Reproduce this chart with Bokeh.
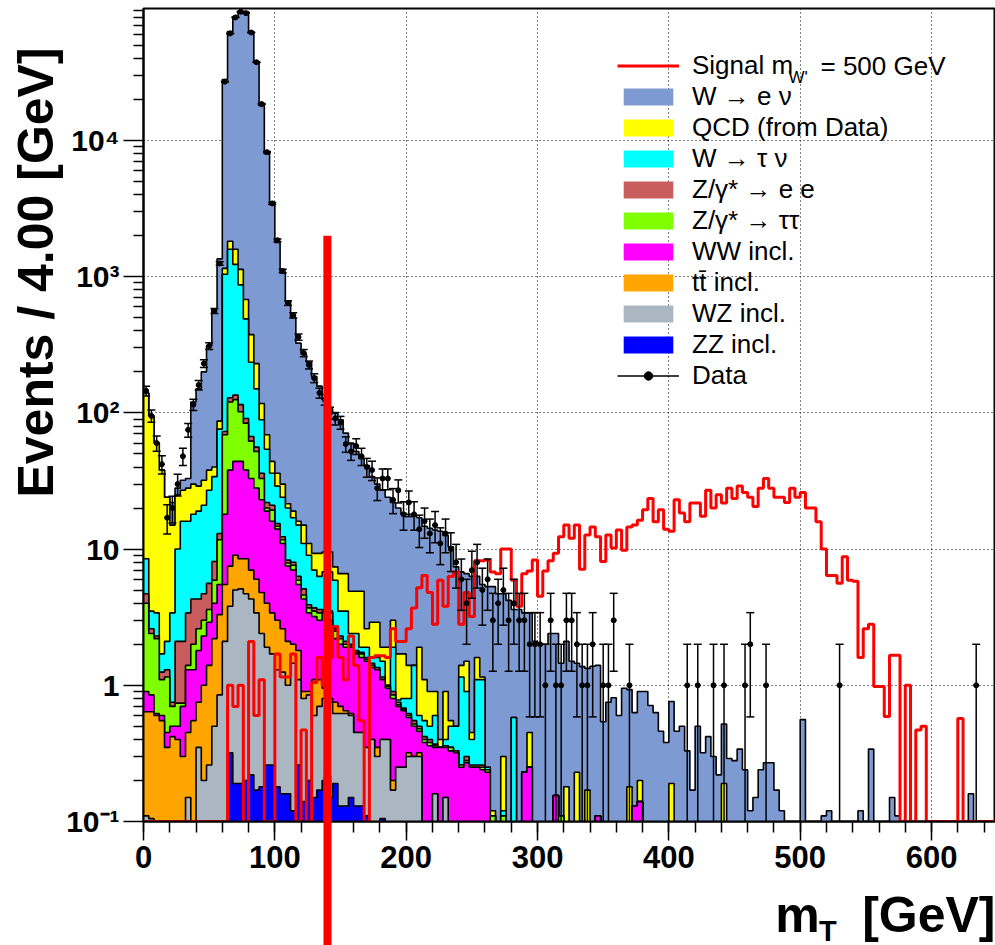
import numpy as np
from bokeh.plotting import figure
from bokeh.models import (Range1d, Legend, LegendItem, BoxAnnotation, Label, Title, LinearAxis,
                          CustomJSTickFormatter, FixedTicker)
from bokeh.embed import file_html
from bokeh.resources import INLINE

# ---------------- data ----------------
BIN_WIDTH = 4.0          # GeV
N_BINS = 163             # 0 .. 652 GeV

# stacked heights (top of each layer in the THStack), events / 4 GeV
stack_wenu = [
    140, 95, 60, 38, 24, 22, 28, 32, 33, 120,
    150, 200, 310, 580, 1350, 28000, 63000, 81000, 89000, 88000,
    63000, 38000, 18000, 8000, 3500, 1780, 1070, 660, 500, 325,
    270, 235, 185, 157, 125, 107, 100, 89, 71, 60,
    52, 46, 41, 34, 30, 27, 24, 22, 20, 18,
    18, 17.7, 17, 14.7, 14.2, 13.8, 13.5, 12.6, 10.4, 7.4,
    6.8, 6.6, 6.3, 6.3, 5.5, 5.3, 5.3, 4.7, 4.7, 4.2,
    3.6, 3.6, 3.4, 3.4, 2.1, 2.0, 2.0, 2.4, 2.4, 1.45,
    2.1, 1.5, 1.45, 1.37, 1.33, 1.38, 1.4, 0.54, 0.75, 0.81,
    0.6, 0.95, 0.93, 0.63, 0.9, 0.9, 0.71, 0.63, 0.46, 0.38,
    0.76, 0.46, 0.5, 0.33, 0.17, 0.5, 0.32, 0.42, 0.3, 0.22,
    0.52, 0.29, 0.28, 0.34, 0.24, 0.12, 0.15, 0.24, 0.27, 0.27,
    0.17, 0.12, 0, 0, 0, 0.56, 0, 0, 0, 0.11,
    0.12, 0, 0, 0, 0, 0, 0.12, 0, 0.34, 0,
    0, 0, 0.15, 0.11, 0, 0, 0, 0, 0, 0,
    0, 0, 0, 0, 0, 0, 0, 0.16, 0, 0,
    0, 0, 0]
stack_qcd = [
    140, 95, 60, 38, 24, 15, 25, 27, 28, 30,
    29, 32, 38, 40, 87, 1150, 1820, 1590, 1130, 680,
    375, 230, 117, 69, 44, 36, 30, 21.5, 19, 16,
    15, 11, 9.3, 9.3, 9.5, 9.5, 7.4, 6.6, 6.6, 4.9,
    4.9, 4.9, 2.6, 2.9, 2.9, 1.9, 1.9, 3.0, 1.7, 1.7,
    1.4, 1.4, 1.9, 1.1, 0.9, 0.9, 0.4, 0.9, 0.55, 0.5,
    1.4, 1.5, 0.45, 1.6, 1.15, 0.25, 0.12, 0, 0.3, 0,
    0.58, 0, 0.23, 0.45, 0, 0, 0, 0, 0.155, 0.11,
    0.18, 0, 0.23, 0, 0.17, 0, 0.11, 0, 0, 0,
    0, 0, 0.18, 0.13, 0.2, 0, 0, 0, 0, 0,
    0.19, 0, 0, 0, 0, 0, 0, 0, 0, 0, 0.19]
stack_wtaunu = [
    8.5, 3.5, 3.4, 1.7, 2.1, 3.4, 10, 16, 16, 18,
    19, 21, 27, 34, 76, 1040, 1590, 1230, 870, 490,
    235, 150, 89, 54, 36, 29, 24, 20, 17, 15,
    11, 9, 7, 6.3, 6.8, 6.8, 5.9, 3.5, 3.5, 2.4,
    2.4, 1.9, 1.9, 1.6, 1.6, 1.5, 1.0, 1.9, 0.78, 0.8,
    0.8, 1.4, 0.6, 0.55, 0.5, 0.6, 0.35, 0.4, 0.5, 0.5,
    1.15, 0.9, 0.4, 1.1, 1.1, 0.25, 0.11, 0, 0.12, 0, 0.58]
stack_zee = [
    4.7, 2.6, 2.3, 1.25, 1.3, 0.75, 2.1, 2.1, 3.4, 4.3,
    4.3, 4.7, 5.6, 8.1, 13, 73, 129, 135, 115, 91,
    67, 56, 36, 22, 21, 15.4, 12.3, 8.3, 8.0, 6.3,
    5.1, 3.9, 3.7, 3.6, 3.6, 3.5, 2.6, 2.3, 2.1, 2.0,
    1.8, 1.75, 1.6, 1.45, 1.35, 1.15, 1.0, 0.9, 0.75, 0.68,
    0.62, 0.55, 0.5, 0.42, 0.4, 0.37, 0.35, 0.36, 0.35, 0.33,
    0.26, 0.3, 0.26, 0.26, 0.26, 0.24, 0.11, 0, 0.11]
stack_ztautau = [
    4.0, 2.4, 2.2, 1.1, 1.15, 0.7, 0.74, 0.74, 1.4, 2.0,
    2.6, 3.0, 3.6, 5.9, 11.7, 69, 120, 125, 102, 84,
    62, 52, 33, 20, 19.3, 14.7, 11.7, 7.9, 7.6, 5.9,
    4.6, 3.7, 3.5, 3.4, 3.5, 3.4, 2.5, 2.2, 2.0, 1.95,
    1.75, 1.7, 1.55, 1.4, 1.3, 1.1, 0.98, 0.85, 0.72, 0.66,
    0.6, 0.52, 0.48, 0.4, 0.38, 0.36, 0.35, 0.36, 0.35, 0.33,
    0.26, 0.28, 0.25, 0.25, 0.25, 0.24, 0.11, 0, 0.11, 0,
    0, 0, 0.23, 0.25, 0, 0, 0, 0, 0.155, 0.11]
stack_ww = [
    0.9, 0.85, 0.62, 0.6, 0.45, 0.5, 0.5, 0.7, 1.3, 1.3,
    1.8, 2.3, 2.9, 4.0, 5.5, 18, 38, 44, 44, 38,
    33, 28, 23, 19, 16, 14, 11, 7.5, 7.0, 5.5,
    4.3, 3.4, 3.2, 3.0, 3.4, 3.0, 2.2, 2.0, 1.9, 1.9,
    1.7, 1.6, 1.5, 1.35, 1.3, 1.1, 0.95, 0.8, 0.7, 0.65,
    0.58, 0.5, 0.46, 0.38, 0.36, 0.35, 0.35, 0.35, 0.33, 0.32,
    0.25, 0.27, 0.25, 0.25, 0.24, 0.23, 0, 0, 0, 0,
    0, 0, 0.23, 0.25, 0, 0, 0, 0, 0.155, 0,
    0, 0, 0, 0, 0, 0, 0.11, 0, 0, 0,
    0, 0, 0, 0.13, 0.14]
stack_ttbar = [
    0.64, 0.64, 0.6, 0.55, 0.35, 0.42, 0.4, 0.3, 0.45, 0.55,
    0.75, 1.0, 1.4, 2.2, 3.3, 5.5, 7.5, 9.0, 8.5, 8.5,
    7.0, 6.0, 4.8, 4.0, 3.4, 3.0, 2.6, 2.1, 2.0, 1.8,
    0.9, 0.9, 1.1, 1.1, 0.95, 0.8, 0.75, 0.7, 0.65, 0.62,
    0.45, 0.45, 0.35, 0.4, 0.35, 0.4, 0.4, 0.2, 0.25, 0.25,
    0.32, 0.3, 0.32, 0, 0, 0.16, 0, 0.15]
stack_wz = [
    0.11, 0.105, 0, 0, 0, 0, 0, 0, 0.15, 0,
    0.35, 0.2, 0.26, 0.5, 0.85, 2.1, 3.8, 5.0, 5.1, 4.7,
    4.3, 3.4, 2.4, 1.9, 1.7, 1.3, 1.25, 1.0, 1.45, 1.1,
    0.8, 0.85, 0.6, 0.7, 0.8, 0.75, 0.62, 0.62, 0.62, 0.6,
    0.45, 0.45, 0.35, 0.4, 0.3, 0.4, 0.4, 0.17, 0.25, 0.25,
    0.3, 0.3, 0.3, 0, 0, 0.16, 0, 0.15]
stack_zz = [
    0, 0, 0, 0, 0, 0, 0, 0, 0, 0,
    0, 0, 0, 0, 0, 0, 0.32, 0.19, 0.19, 0.2,
    0.22, 0.17, 0.18, 0.26, 0.26, 0.18, 0.16, 0.16, 0.12, 0.26,
    0.14, 0.2, 0.15, 0.17, 0.2, 0.15, 0.19, 0.13, 0.13, 0.15,
    0.13, 0.13, 0.11, 0, 0, 0.105]

signal_wprime = [
    0, 0, 0, 0, 0, 0, 0, 0, 0, 0,
    0, 0, 0, 0, 0, 0, 1.0, 0.7, 1.0, 0,
    2.1, 0.6, 1.1, 0, 0, 1.7, 1.15, 1.15, 1.7, 0,
    0.47, 0, 1.05, 1.6, 1.0, 1.6, 2.7, 1.6, 1.1, 2.3,
    1.4, 0.55, 0, 1.6, 1.65, 1.65, 1.6, 2.6, 2.1, 2.1,
    2.6, 3.7, 5.2, 6.4, 4.8, 2.8, 5.9, 3.8, 6.3, 6.8,
    2.8, 4.8, 3.2, 8.2, 8.2, 8.3, 6.8, 6.6, 10, 10,
    5.9, 3.8, 6.6, 6.9, 8.3, 4.5, 6.9, 8.2, 9.3, 12.3,
    15, 12, 15, 7.1, 12.7, 14.5, 12.3, 8.1, 12.7, 10.2,
    13.8, 9.8, 14.5, 15, 16.3, 19.4, 23.5, 15.9, 19.4, 14,
    13.5, 23, 18.4, 15.9, 21.8, 21.8, 17.4, 27, 20, 25,
    21.8, 28, 23.5, 29, 26, 24, 20.5, 28, 33, 28,
    24, 24, 22, 28, 24, 26, 20, 20, 15.9, 10,
    6.4, 6.4, 5.6, 8.8, 5.9, 5.8, 1.6, 2.6, 2.8, 0.98,
    0.98, 0.59, 1.66, 1.66, 0, 1.0, 0, 0.47, 0.5, 0,
    0, 0, 0, 0, 0, 0.57, 0, 0, 0, 0,
    0, 0, 0]

data_counts = [
    145, 95, 60, 42, 17, 20, 30, 48, 75, 115,
    160, 230, 310, 560, 1250, 27000, 61000, 80000, 88000, 86000,
    62000, 37500, 18500, 8200, 3450, 1850, 1100, 640, 520, 360,
    275, 225, 180, 140, 125, 100, 91, 85, 59, 52,
    57, 48, 40, 38, 28, 33, 33, 23, 27, 18,
    22, 18, 14, 16, 13, 15, 11, 13, 10, 8,
    6, 4, 7, 8, 5, 6, 3, 4, 5, 3,
    4, 3, 3, 2, 2, 2, 1, 3, 1, 1,
    3, 3, 2, 1, 1, 2, 0, 1, 1, 3,
    0, 0, 1, 0, 0, 0, 0, 0, 0, 0,
    0, 0, 0, 1, 0, 1, 0, 0, 1, 0,
    1, 0, 0, 0, 1, 2, 0, 0, 1, 0,
    0, 0, 0, 0, 0, 0, 0, 0, 0, 0,
    0, 0, 1, 0, 0, 0, 0, 0, 0, 0,
    0, 0, 0, 0, 0, 0, 0, 0, 0, 0,
    0, 0, 0, 0, 0, 0, 0, 0, 1, 0,
    0, 0, 0]

CUT_MT = 140.0          # GeV, vertical red cut line
CUT_TOP = 2000.0        # events

legend_labels = ["W \u2192 e \u03bd", "QCD (from Data)", "W \u2192 \u03c4 \u03bd",
                 "Z/\u03b3* \u2192 e e", "Z/\u03b3* \u2192 \u03c4\u03c4", "WW incl.",
                 "tt\u0304 incl.", "WZ incl.", "ZZ incl."]
layer_colors = ["#7D9AD2", "#FFFF00", "#00FFFF", "#C95C5C", "#80FF00",
                "#FF00FF", "#FFA500", "#AAB7C3", "#0000FF"]

# ---------------- geometry ----------------
X_MIN, X_MAX = 0.0, 648.7
Y_MIN, Y_MAX = 0.1, 93000.0
FRAME_L, FRAME_T, FRAME_W, FRAME_H = 143, 8, 852, 813
FLOOR = 1e-3

def px_x(px):
    return X_MIN + (px - FRAME_L) * (X_MAX - X_MIN) / FRAME_W

def px_y(py):
    lo, hi = np.log10(Y_MIN), np.log10(Y_MAX)
    return 10 ** (lo + (FRAME_T + FRAME_H - py) * (hi - lo) / FRAME_H)

def padded(a):
    return np.array(list(a) + [0.0] * (N_BINS - len(a)), dtype=float)

edges = np.arange(N_BINS + 1) * BIN_WIDTH
centers = edges[:-1] + BIN_WIDTH / 2

# cumulative layers, outermost first; make each outer layer at least the inner one
raw = [stack_wenu, stack_qcd, stack_wtaunu, stack_zee, stack_ztautau,
       stack_ww, stack_ttbar, stack_wz, stack_zz]
layers = [padded(a) for a in raw]
for k in range(len(layers) - 2, -1, -1):
    layers[k] = np.maximum(layers[k], layers[k + 1])

def step_vals(v, floor):
    y = np.where(v > 0, v, floor)
    return np.append(y, y[-1])

FONT = "Liberation Sans"

p = figure(x_range=Range1d(X_MIN, X_MAX), y_range=Range1d(Y_MIN, Y_MAX),
           y_axis_type="log", frame_width=FRAME_W, frame_height=FRAME_H,
           min_border_left=FRAME_L, min_border_right=0, min_border_top=FRAME_T,
           min_border_bottom=945 - FRAME_T - FRAME_H,
           output_backend="svg", toolbar_location=None)
p.background_fill_color = "white"
p.border_fill_color = "white"
p.outline_line_color = "black"
p.outline_line_width = 2

# grids
for g in (p.xgrid, p.ygrid):
    g.grid_line_color = "black"
    g.grid_line_dash = "1 3"
    g.grid_line_width = 1

# axes
p.xaxis.ticker = FixedTicker(ticks=list(range(0, 601, 100)),
                             minor_ticks=list(range(0, 661, 20)))
p.yaxis.ticker = FixedTicker(ticks=[0.1, 1, 10, 100, 1000, 10000],
                             minor_ticks=[k * 10.0 ** e for e in range(-1, 5) for k in range(2, 10)])
p.yaxis.formatter = CustomJSTickFormatter(code="""
const e = Math.round(Math.log10(tick));
if (e === 0) { return "1"; }
if (e === 1) { return "10"; }
const sup = {"-": "\\u207b", "0": "\\u2070", "1": "\\u00b9", "2": "\\u00b2",
             "3": "\\u00b3", "4": "\\u2074", "5": "\\u2075"};
return "10" + String(e).split("").map(function (c) { return sup[c]; }).join("");
""")
for ax, tout, mout in ((p.xaxis, 19, 11), (p.yaxis, 20, 10)):
    ax.axis_line_color = "black"
    ax.axis_line_width = 2
    ax.major_tick_line_color = "black"
    ax.minor_tick_line_color = "black"
    ax.major_tick_line_width = 1.5
    ax.minor_tick_line_width = 1.5
    ax.major_tick_out = tout
    ax.major_tick_in = 0
    ax.minor_tick_out = mout
    ax.minor_tick_in = 0
    ax.major_label_text_font = FONT
    ax.major_label_text_font_style = "bold"
    ax.major_label_text_color = "black"
p.xaxis.major_label_text_font_size = "31px"
p.yaxis.major_label_text_font_size = "30px"
p.xaxis.major_label_standoff = 5
p.yaxis.major_label_standoff = 4

# stacked histograms
fill_renderers = []
for v, col in zip(layers, layer_colors):
    yv = step_vals(v, FLOOR)
    fr = p.varea_step(x=edges, y1=np.full_like(yv, FLOOR), y2=yv, step_mode="after",
                      fill_color=col, fill_alpha=1.0)
    p.step(x=edges, y=yv, mode="after", line_color="black", line_width=1.6)
    fill_renderers.append(fr)

# signal
sig = padded(signal_wprime)
sig_r = p.step(x=edges, y=step_vals(sig, Y_MIN), mode="after",
               line_color="#FF0000", line_width=3)

# data points with sqrt(N) errors
dc = padded(data_counts)
m = dc > 0
xc = centers[m]
n = dc[m]
err = np.sqrt(n)
hi = n + err
lo = np.where(n - err > 0, n - err, FLOOR)
p.segment(x0=xc, y0=lo, x1=xc, y1=hi, line_color="black", line_width=1.5)
dx_r = p.segment(x0=xc - BIN_WIDTH / 2, y0=n, x1=xc + BIN_WIDTH / 2, y1=n,
                 line_color="black", line_width=1.5)
p.scatter(x=xc, y=hi, marker="dash", size=8, line_color="black", line_width=1.5)
mlo = (n - err) > 0
p.scatter(x=xc[mlo], y=lo[mlo], marker="dash", size=8, line_color="black", line_width=1.5)
pt_r = p.scatter(x=xc, y=n, marker="circle", size=5, fill_color="black", line_color="black")
vt_r = p.scatter(x=[-1000.0], y=[1.0], marker="dash", angle=np.pi / 2, size=22,
                 line_color="black", line_width=1.5)

# cut line inside the frame
p.add_layout(BoxAnnotation(left=CUT_MT - 3.05, right=CUT_MT + 3.05, top=CUT_TOP, bottom=FLOOR * 1e-3,
                           fill_color="#FF0000", fill_alpha=1.0, line_alpha=0, level="overlay"))

# legend
items = [LegendItem(label="Signal m", renderers=[sig_r])]
for lab, r in zip(legend_labels, fill_renderers):
    items.append(LegendItem(label=lab, renderers=[r]))
items.append(LegendItem(label="Data", renderers=[dx_r, pt_r, vt_r]))
legend = Legend(items=items, location=(474, 430), orientation="vertical",
                glyph_width=62, glyph_height=21, label_height=21, spacing=0, padding=0,
                label_standoff=13, border_line_alpha=0, background_fill_alpha=0,
                label_text_font=FONT, label_text_font_size="26px", label_text_color="black")
p.add_layout(legend)
p.add_layout(Label(x=px_x(788), y=px_y(77), text="W'", text_font=FONT, text_font_size="17px",
                   text_color="black", text_baseline="middle", text_align="left"))
p.add_layout(Label(x=px_x(820), y=px_y(65), text="= 500 GeV", text_font=FONT, text_font_size="26px",
                   text_color="black", text_baseline="middle", text_align="left"))

# y axis title (top aligned, ROOT style)
p.add_layout(Title(text="Events / 4.00  [GeV]", align="right", text_font=FONT, text_color="black",
                   text_font_size="50px", text_font_style="bold", offset=25, standoff=0), "left")

# x axis title "m_T  [GeV]" (right aligned, ROOT style) as label-only axes
def label_axis(ticks, labels, size, standoff, minor=()):
    ax = LinearAxis(ticker=FixedTicker(ticks=ticks, minor_ticks=list(minor)),
                    major_label_overrides=dict(zip(ticks, labels)))
    ax.axis_line_alpha = 0
    ax.major_tick_line_alpha = 0
    ax.major_tick_out = 0
    ax.major_tick_in = 0
    ax.minor_tick_out = 0
    ax.minor_tick_in = 0
    ax.major_label_text_font = FONT
    ax.major_label_text_font_style = "bold"
    ax.major_label_text_font_size = size
    ax.major_label_text_color = "black"
    ax.major_label_standoff = standoff
    return ax

p.add_layout(label_axis([498, 598], ["m", "[GeV]"], "50px", 16), "below")
sub_ax = label_axis([521], ["T"], "29px", -31, minor=[CUT_MT])
# the cut line continues below the frame: one long red minor tick pointing into the plot
sub_ax.minor_tick_line_color = "#FF0000"
sub_ax.minor_tick_line_width = 8
sub_ax.minor_tick_line_cap = "butt"
sub_ax.minor_tick_in = 170
p.add_layout(sub_ax, "below")

open("out.html", "w").write(file_html(p, INLINE))
